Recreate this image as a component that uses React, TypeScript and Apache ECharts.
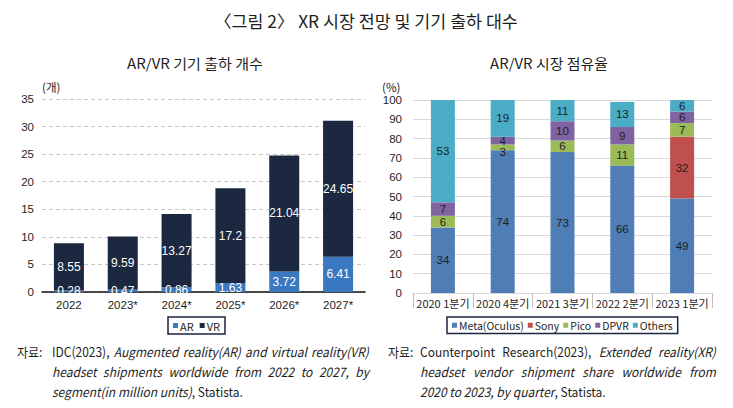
import React, { useEffect, useRef } from 'react';
import * as echarts from 'echarts';

const TITLE = '〈그림 2〉 XR 시장 전망 및 기기 출하 대수';
const LEFT_SUBTITLE = 'AR/VR 기기 출하 개수';
const RIGHT_SUBTITLE = 'AR/VR 시장 점유율';
const LEFT_UNIT = '(개)';
const RIGHT_UNIT = '(%)';

const years = ['2022', '2023*', '2024*', '2025*', '2026*', '2027*'];
const arValues = [0.28, 0.47, 0.86, 1.63, 3.72, 6.41];
const vrValues = [8.55, 9.59, 13.27, 17.2, 21.04, 24.65];

const quarters = ['2020 1분기', '2020 4분기', '2021 3분기', '2022 2분기', '2023 1분기'];
const metaShare = [34, 74, 73, 66, 49];
const sonyShare = [0, 0, 0, 0, 32];
const picoShare = [6, 3, 6, 11, 7];
const dpvrShare = [7, 4, 10, 9, 6];
const othersShare = [53, 19, 11, 13, 6];

const SOURCE_PREFIX = '자료:';
// "_" toggles italic
const leftSource = [
  'IDC(2023), _Augmented reality(AR) and virtual reality(VR)_',
  '_headset shipments worldwide from 2022 to 2027, by_',
  '_segment(in million units)_, Statista.',
];
const rightSource = [
  'Counterpoint Research(2023), _Extended reality(XR)_',
  '_headset vendor shipment share worldwide from_',
  '_2020 to 2023, by quarter_, Statista.',
];

const FONT = '"Noto Sans CJK KR", sans-serif';
const LAB = '"Liberation Sans", "Noto Sans CJK KR", sans-serif';
const TXT = '#1e1e1e';

let ctx: CanvasRenderingContext2D | null = null;
function measure(text: string, size: number, italic = false, family = FONT) {
  if (!ctx) ctx = document.createElement('canvas').getContext('2d');
  ctx!.font = `${italic ? 'italic ' : ''}${size}px ${family}`;
  return ctx!.measureText(text).width;
}

type Piece = { t: string; i: boolean };
function parseWords(s: string): Piece[][] {
  const words: Piece[][] = [];
  let cur: Piece[] = [];
  let italic = false;
  let buf = '';
  const flush = () => {
    if (buf) {
      cur.push({ t: buf, i: italic });
      buf = '';
    }
  };
  for (const ch of s) {
    if (ch === '_') {
      flush();
      italic = !italic;
    } else if (ch === ' ') {
      flush();
      if (cur.length) {
        words.push(cur);
        cur = [];
      }
    } else buf += ch;
  }
  flush();
  if (cur.length) words.push(cur);
  return words;
}

function naturalWidth(str: string, size: number) {
  const words = parseWords(str);
  let w = 0;
  words.forEach((wd) => wd.forEach((p) => (w += measure(p.t, size, p.i))));
  return w + (words.length - 1) * measure(' ', size);
}

function lineEls(str: string, x0: number, y: number, targetW: number, justify: boolean, k: number, size: number) {
  const words = parseWords(str);
  const widths = words.map((wd) => wd.map((p) => measure(p.t, size, p.i) * k));
  const wordW = widths.map((a) => a.reduce((s, v) => s + v, 0));
  const total = wordW.reduce((s, v) => s + v, 0);
  const sp = measure(' ', size) * k;
  let gap = justify && words.length > 1 ? (targetW - total) / (words.length - 1) : sp;
  if (gap < sp * 0.6) gap = sp * 0.6;
  const els: any[] = [];
  let x = x0;
  words.forEach((wd, wi) => {
    wd.forEach((p, pi) => {
      els.push({
        type: 'text',
        x,
        y,
        scaleX: k,
        style: {
          text: p.t,
          fontSize: size,
          fontFamily: FONT,
          fontStyle: p.i ? 'italic' : 'normal',
          fill: TXT,
          textAlign: 'left',
          align: 'left',
          textVerticalAlign: 'middle',
          verticalAlign: 'middle',
        },
      });
      x += widths[wi][pi];
    });
    x += gap;
  });
  return els;
}

function fitText(text: string, cx: number, cy: number, size: number, targetW: number, align = 'center') {
  const k = Math.min(1.1, targetW / measure(text, size));
  return {
    type: 'text',
    x: cx,
    y: cy,
    scaleX: k,
    style: {
      text,
      fontSize: size,
      fontFamily: FONT,
      fill: TXT,
      textAlign: align,
      align,
      textVerticalAlign: 'middle',
      verticalAlign: 'middle',
    },
  };
}

export default function App() {
  const ref = useRef<HTMLDivElement>(null);
  useEffect(() => {
    if (!ref.current) return;
    const chart = echarts.init(ref.current, null, { renderer: 'svg' });
    const SZ = 13;
    const k = 191 / naturalWidth(leftSource[2], SZ);

    const graphics: any[] = [
      fitText(TITLE, 366, 21, 17, 304),
      fitText(LEFT_SUBTITLE, 195, 63, 14, 136),
      fitText(RIGHT_SUBTITLE, 549, 63, 14, 118),
      { type: 'text', x: 42, y: 87, style: { text: LEFT_UNIT, fontSize: 11.5, fontFamily: FONT, fill: TXT, textVerticalAlign: 'middle', verticalAlign: 'middle' } },
      { type: 'text', x: 382, y: 87, style: { text: RIGHT_UNIT, fontSize: 11.5, fontFamily: FONT, fill: TXT, textVerticalAlign: 'middle', verticalAlign: 'middle' } },
    ];
    const lineYs = [351, 371, 391];
    graphics.push(...lineEls(SOURCE_PREFIX, 17, lineYs[0], 0, false, k, SZ));
    graphics.push(...lineEls(SOURCE_PREFIX, 388, lineYs[0], 0, false, k, SZ));
    leftSource.forEach((s, i) => graphics.push(...lineEls(s, 52, lineYs[i], 317, i < 2, k, SZ)));
    rightSource.forEach((s, i) => graphics.push(...lineEls(s, 420, lineYs[i], 296, i < 2, k, SZ)));

    const legendBase = {
      top: 317,
      orient: 'horizontal',
      borderColor: '#1b2540',
      borderWidth: 1.5,
      padding: [3, 5, 3, 5],
      itemWidth: 5,
      itemHeight: 5,
      itemGap: 6,
      icon: 'rect',
      textStyle: { fontSize: 11, fontFamily: FONT, color: TXT, padding: [0, 0, 0, -3] },
    };

    const shareLabel = {
      show: true,
      position: 'inside',
      color: '#1e1e1e',
      fontSize: 11.5,
      fontFamily: LAB,
      formatter: (p: any) => (p.value ? String(p.value) : ''),
    };
    const countLabel = {
      show: true,
      position: 'inside',
      color: '#ffffff',
      fontSize: 12,
      fontFamily: LAB,
    };

    const axisLabelBase = { color: TXT, fontFamily: LAB };
    // nudge the label of a thin segment just below its centre, as in the reference
    const picoData = picoShare.map((v) => (v < 4 ? { value: v, label: { offset: [0, 5] } } : v));

    chart.setOption({
      animation: false,
      graphic: graphics,
      legend: [
        { ...legendBase, left: 168, data: ['AR', 'VR'] },
        {
          ...legendBase,
          left: 447,
          itemGap: 4,
          textStyle: { ...legendBase.textStyle, fontSize: 10.5 },
          data: ['Meta(Oculus)', 'Sony', 'Pico', 'DPVR', 'Others'],
        },
      ],
      grid: [
        { left: 42, right: 368, top: 99, bottom: 116 },
        { left: 413, right: 21, top: 100, bottom: 115 },
      ],
      xAxis: [
        {
          type: 'category',
          gridIndex: 0,
          data: years,
          axisLine: { lineStyle: { color: '#111', width: 1.5 } },
          axisTick: { show: false },
          axisLabel: { ...axisLabelBase, fontSize: 11.5, margin: 7, interval: 0 },
        },
        {
          type: 'category',
          gridIndex: 1,
          data: quarters,
          axisLine: { lineStyle: { color: '#d9d9d9', width: 1 } },
          axisTick: { show: true, length: 15, lineStyle: { color: '#bfbfbf' } },
          axisLabel: { ...axisLabelBase, fontFamily: FONT, fontSize: 11, margin: 4, interval: 0 },
        },
      ],
      yAxis: [
        {
          type: 'value',
          gridIndex: 0,
          min: 0,
          max: 35,
          interval: 5,
          axisLine: { show: false },
          axisTick: { show: false },
          splitLine: { lineStyle: { color: '#c8c8c8', type: [4, 3] } },
          axisLabel: { ...axisLabelBase, fontSize: 11.5, margin: 8 },
        },
        {
          type: 'value',
          gridIndex: 1,
          min: 0,
          max: 100,
          interval: 10,
          axisLine: { show: false },
          axisTick: { show: false },
          splitLine: { lineStyle: { color: '#d9d9d9' } },
          axisLabel: { ...axisLabelBase, fontSize: 11.5, margin: 11 },
        },
      ],
      series: [
        { name: 'AR', type: 'bar', stack: 'cnt', xAxisIndex: 0, yAxisIndex: 0, barWidth: 30, data: arValues, itemStyle: { color: '#3a78c2' }, label: countLabel },
        { name: 'VR', type: 'bar', stack: 'cnt', xAxisIndex: 0, yAxisIndex: 0, barWidth: 30, data: vrValues, itemStyle: { color: '#1b2840' }, label: countLabel },
        { name: 'Meta(Oculus)', type: 'bar', stack: 'share', xAxisIndex: 1, yAxisIndex: 1, barWidth: 24, data: metaShare, itemStyle: { color: '#4f7db6' }, label: shareLabel },
        { name: 'Sony', type: 'bar', stack: 'share', xAxisIndex: 1, yAxisIndex: 1, barWidth: 24, data: sonyShare, itemStyle: { color: '#c0504d' }, label: shareLabel },
        { name: 'Pico', type: 'bar', stack: 'share', xAxisIndex: 1, yAxisIndex: 1, barWidth: 24, data: picoData, itemStyle: { color: '#9bbb59' }, label: shareLabel },
        { name: 'DPVR', type: 'bar', stack: 'share', xAxisIndex: 1, yAxisIndex: 1, barWidth: 24, data: dpvrShare, itemStyle: { color: '#8064a2' }, label: shareLabel },
        { name: 'Others', type: 'bar', stack: 'share', xAxisIndex: 1, yAxisIndex: 1, barWidth: 24, data: othersShare, itemStyle: { color: '#4bacc6' }, label: shareLabel },
      ],
    });
    return () => chart.dispose();
  }, []);
  return <div ref={ref} style={{ position: 'absolute', left: 0, top: 0, width: 733, height: 408, background: '#fff' }} />;
}
